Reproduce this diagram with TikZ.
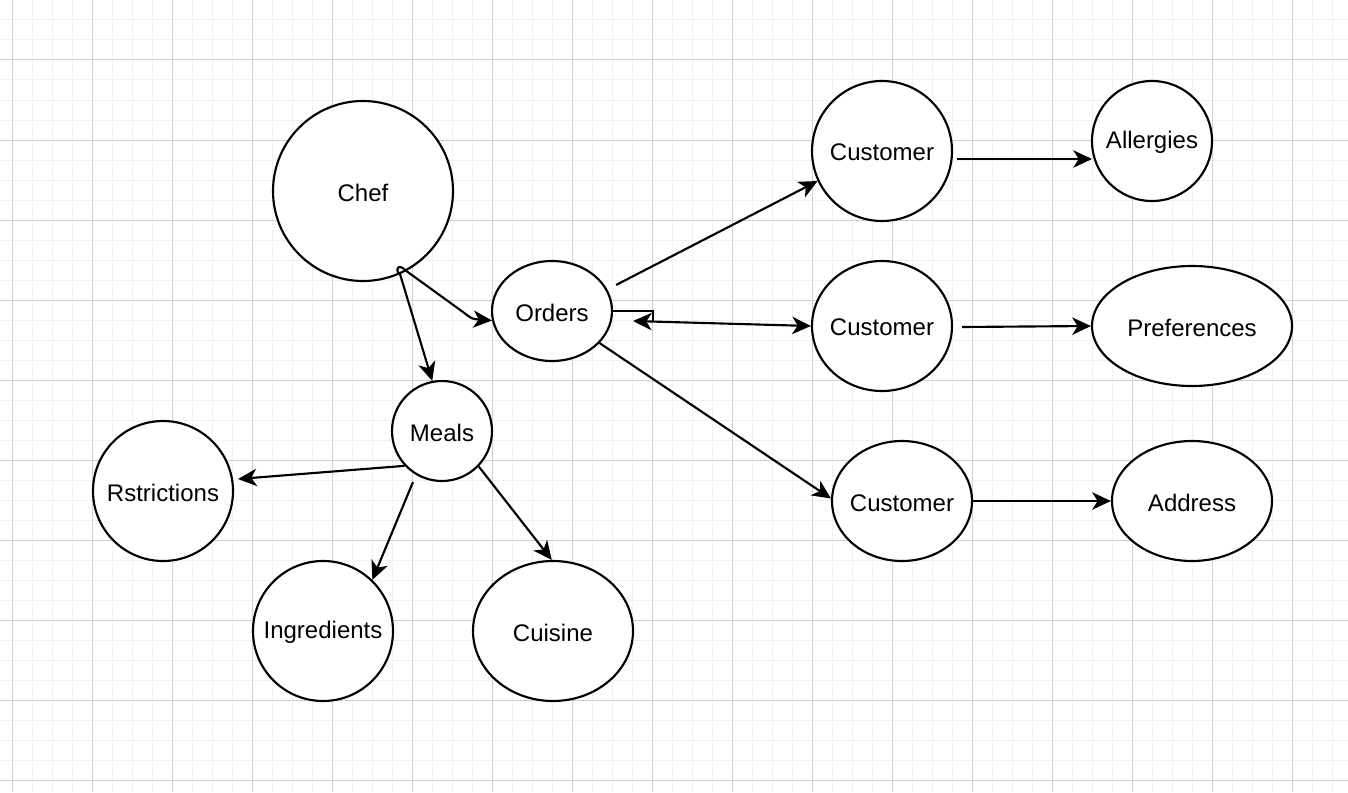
\documentclass[tikz,border=0pt]{standalone}
\usepackage{fontspec}
\setmainfont{Liberation Sans}
\usetikzlibrary{shapes.geometric,arrows.meta,calc}
\definecolor{minorgrid}{HTML}{F1F1F1}
\definecolor{majorgrid}{HTML}{D0D0D0}
\newcommand{\zbox}[1]{\makebox[0pt]{\raisebox{-1.3pt}[\height][\depth]{#1}}}
\begin{document}
\begin{tikzpicture}[x=0.75pt,y=-0.75pt,
  ent/.style={draw=black,line width=1.6pt,fill=white,ellipse,inner sep=0pt,
    font=\fontsize{18}{21.6}\selectfont},
  arr/.style={draw=black,line width=1.6pt,-{Stealth[length=14pt,width=13pt,inset=4pt]}},
  darr/.style={draw=black,line width=1.6pt,{Stealth[length=14pt,width=13pt,inset=4pt]}-{Stealth[length=14pt,width=13pt,inset=4pt]}},
  plain/.style={draw=black,line width=1.6pt}]
\useasboundingbox (0,0) rectangle (1348,792);
\fill[white] (0,0) rectangle (1348,792);
% grid
\foreach \gx in {12,32,...,1348} \draw[minorgrid,line width=0.75pt] (\gx,0) -- (\gx,792);
\foreach \gy in {0,20,...,792} \draw[minorgrid,line width=0.75pt] (0,\gy) -- (1348,\gy);
\foreach \gx in {12,92,...,1348} \draw[majorgrid,line width=0.75pt] (\gx,0) -- (\gx,792);
\foreach \gy in {60,140,...,792} \draw[majorgrid,line width=0.75pt] (0,\gy) -- (1348,\gy);
% nodes
\node[ent,minimum width=135pt,minimum height=135pt] (chef) at (363,191) {\zbox{Chef}};
\node[ent,minimum width=90pt,minimum height=75pt] (orders) at (552,311) {\zbox{Orders}};
\node[ent,minimum width=75pt,minimum height=75pt] (meals) at (442,431) {\zbox{Meals}};
\node[ent,minimum width=105pt,minimum height=105pt] (rstr) at (163,491) {\zbox{Rstrictions}};
\node[ent,minimum width=105pt,minimum height=105pt] (ingr) at (323,631) {\zbox{Ingredients}};
\node[ent,minimum width=120pt,minimum height=105pt] (cuisine) at (553,631) {\zbox{Cuisine}};
\node[ent,minimum width=105pt,minimum height=105pt] (cust1) at (882,151) {\zbox{Customer}};
\node[ent,minimum width=90pt,minimum height=90pt] (allergies) at (1152,141) {\zbox{Allergies}};
\node[ent,minimum width=105pt,minimum height=97.5pt] (cust2) at (882,326) {\zbox{Customer}};
\node[ent,minimum width=150pt,minimum height=90pt] (pref) at (1192,326) {\zbox{Preferences}};
\node[ent,minimum width=105pt,minimum height=90pt] (cust3) at (902,501) {\zbox{Customer}};
\node[ent,minimum width=120pt,minimum height=90pt] (address) at (1192,501) {\zbox{Address}};
% connectors
\draw[arr] (chef.294) -- (meals.101);
\draw[arr] ($(chef.center)+(35,82)$) .. controls (396,266) and (400,265) .. (405,270)
  -- (463,312) .. controls (472,319) .. (orders.189);
\draw[arr] ($(orders.center)+(64,-26)$) -- (cust1.205);
\draw[plain] (orders.east) -| ($(orders.center)+(101,10)$);
\coordinate (oc) at ($(orders.center)+(81,10)$);
\draw[darr] (oc) -- (cust2.west);
\draw[arr] (orders.326) -- (cust3.178);
\draw[arr] ($(cust1.center)+(75,8)$) -- ($(allergies.center)+(-60,18)$);
\draw[arr] ($(cust2.east)+(9,1)$) -- (pref.west);
\draw[arr] (cust3.east) -- (address.west);
\draw[arr] (meals.223) -- ($(rstr.center)+(75,-12)$);
\draw[arr] ($(meals.center)+(-29,51)$) -- (ingr.46);
\draw[arr] (meals.316) -- (cuisine.91);
\end{tikzpicture}
\end{document}
